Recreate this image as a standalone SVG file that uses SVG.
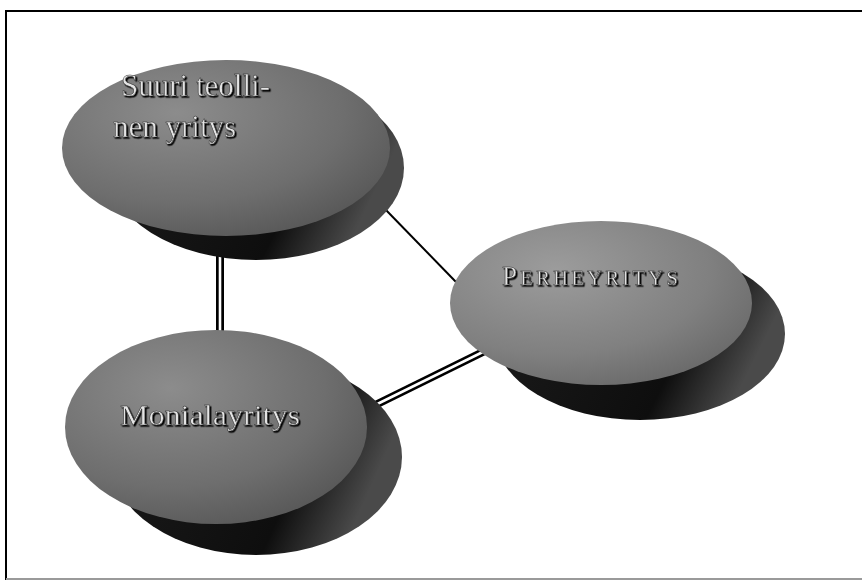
<svg xmlns="http://www.w3.org/2000/svg" width="862" height="581" viewBox="0 0 862 581">
  <defs>
    <radialGradient id="topFill" cx="0.35" cy="0.3" r="0.85">
      <stop offset="0" stop-color="#8c8c8c"/>
      <stop offset="0.6" stop-color="#6e6e6e"/>
      <stop offset="1" stop-color="#505050"/>
    </radialGradient>
    <radialGradient id="topFillLight" cx="0.35" cy="0.3" r="0.85">
      <stop offset="0" stop-color="#9c9c9c"/>
      <stop offset="0.6" stop-color="#808080"/>
      <stop offset="1" stop-color="#626262"/>
    </radialGradient>
    <linearGradient id="shadowFill" x1="0" y1="0" x2="1" y2="0.3">
      <stop offset="0" stop-color="#1c1c1c"/>
      <stop offset="0.75" stop-color="#0e0e0e"/>
      <stop offset="1" stop-color="#4a4a4a"/>
    </linearGradient>
    <filter id="emboss" x="-10%" y="-20%" width="130%" height="150%">
      <feDropShadow dx="1.5" dy="1.5" stdDeviation="0.6" flood-color="#000" flood-opacity="1"/>
    </filter>
  </defs>
  <style>
    .frame { stroke: #000; stroke-width: 2; fill: none; }
    .frame-low { stroke: #9a9a9a; stroke-width: 2; fill: none; }
    .top { fill: url(#topFill); }
    .top-light { fill: url(#topFillLight); }
    .shadow { fill: url(#shadowFill); }
    .single { stroke: #000; stroke-width: 2; fill: none; }
    .dbl-outer { stroke: #000; stroke-width: 8; fill: none; }
    .dbl-inner { stroke: #fff; stroke-width: 2.6; fill: none; }
    .label { font-family: "Liberation Serif", "Times New Roman", serif; fill: #e4e4e4; stroke: #2a2a2a; stroke-width: 0.5; filter: url(#emboss); }
  </style>

  <rect x="0" y="0" width="862" height="581" fill="#fff"/>

  <!-- page frame -->
  <line class="frame" x1="6" y1="11" x2="862" y2="11"/>
  <line class="frame" x1="6" y1="10" x2="6" y2="580"/>
  <line class="frame-low" x1="6" y1="579" x2="862" y2="579"/>

  <!-- connectors -->
  <g id="connectors">
    <line class="single" x1="385" y1="209" x2="456" y2="282"/>
    <line class="dbl-outer" x1="220" y1="255" x2="220" y2="340"/>
    <line class="dbl-inner" x1="220" y1="255" x2="220" y2="340"/>
    <line class="dbl-outer" x1="355" y1="415" x2="495" y2="346"/>
    <line class="dbl-inner" x1="355" y1="415" x2="495" y2="346"/>
  </g>

  <!-- node: Suuri teollinen yritys -->
  <g id="node-suuri">
    <ellipse class="shadow" cx="256" cy="168" rx="148" ry="92"/>
    <ellipse class="top" cx="226" cy="148" rx="164" ry="88"/>
    <text class="label" font-size="31" x="121" y="96">Suuri teolli-</text>
    <text class="label" font-size="31" x="113" y="137">nen yritys</text>
  </g>

  <!-- node: Perheyritys -->
  <g id="node-perhe">
    <ellipse class="shadow" cx="640" cy="334" rx="145" ry="86"/>
    <ellipse class="top-light" cx="601" cy="303" rx="151" ry="82"/>
    <text class="label" x="502" y="285" textLength="176" lengthAdjust="spacing"><tspan font-size="27">P</tspan><tspan font-size="21">ERHEYRITYS</tspan></text>
  </g>

  <!-- node: Monialayritys -->
  <g id="node-monia">
    <ellipse class="shadow" cx="256" cy="457" rx="146" ry="98"/>
    <ellipse class="top" cx="216" cy="427" rx="151" ry="97"/>
    <text class="label" font-size="30" x="120" y="425" textLength="180" lengthAdjust="spacingAndGlyphs">Monialayritys</text>
  </g>
</svg>
